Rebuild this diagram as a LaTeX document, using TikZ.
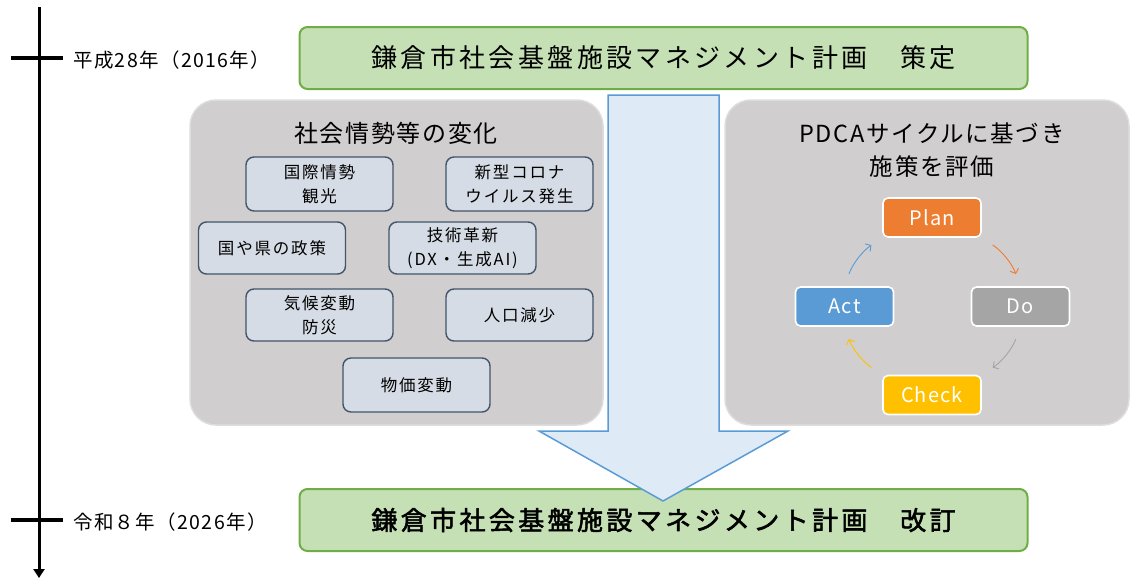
\documentclass[tikz,border=0pt]{standalone}
\usepackage{fontspec}
\setmainfont{Noto Sans CJK JP}
\newfontfamily\yearfont[LetterSpace=7]{Noto Sans CJK JP}
\newfontfamily\titlefont[LetterSpace=13]{Noto Sans CJK JP}
\newfontfamily\titlefontb[LetterSpace=13,FakeBold=2]{Noto Sans CJK JP}
\newfontfamily\headfont[LetterSpace=7]{Noto Sans CJK JP}
\newfontfamily\itemfont[LetterSpace=11]{Noto Sans CJK JP}
\newfontfamily\pdcafont[LetterSpace=6]{Noto Sans CJK JP}
\usetikzlibrary{arrows.meta,calc}
\definecolor{gfill}{HTML}{C5E0B4}
\definecolor{gdraw}{HTML}{70AD47}
\definecolor{pfill}{HTML}{D0CECE}
\definecolor{pdraw}{HTML}{DEDDDD}
\definecolor{ifill}{HTML}{D6DCE5}
\definecolor{idraw}{HTML}{44546A}
\definecolor{afill}{HTML}{DEEBF7}
\definecolor{adraw}{HTML}{5B9BD5}
\definecolor{cplan}{HTML}{ED7D31}
\definecolor{cdo}{HTML}{A5A5A5}
\definecolor{ccheck}{HTML}{FFC000}
\definecolor{cact}{HTML}{5B9BD5}
\tikzset{
  greenbox/.style={draw=gdraw, fill=gfill, line width=2pt, rounded corners=8pt,
    minimum width=728pt, minimum height=62pt, inner sep=0pt},
  panel/.style={draw=pdraw, fill=pfill, line width=1.5pt, rounded corners=26pt,
    minimum height=325pt, inner sep=0pt},
  itembox/.style={draw=idraw, fill=ifill, line width=1.4pt, rounded corners=8pt,
    minimum width=147pt, inner sep=0pt, align=center,
    font=\itemfont\fontsize{16.5}{24}\selectfont},
  pdcabox/.style={draw=white, line width=1.6pt, rounded corners=5pt,
    minimum width=98pt, minimum height=39pt, inner sep=0pt, text=white,
    font=\pdcafont\fontsize{20}{24}\selectfont},
  cyc/.style={line width=0.9pt, -{Straight Barb[length=4pt,width=9pt]},
    shorten <=13pt, shorten >=13pt, bend left=18},
  bigarrow/.style={draw=adraw, fill=afill, line width=1.5pt, line join=miter},
  yearlabel/.style={anchor=west, inner sep=0pt, font=\yearfont\fontsize{19.5}{22}\selectfont}
}
\begin{document}
\begin{tikzpicture}[x=1pt,y=-1pt]
\useasboundingbox (0,0) rectangle (1131,579);
% timeline
\coordinate (tltop) at (39,7);
\coordinate (tlbot) at (39,578);
\coordinate (tk1a) at (11,58);
\coordinate (tk1b) at (63,58);
\coordinate (tk2a) at (11,520);
\coordinate (tk2b) at (63,520);
\draw[line width=3pt, -{Triangle[width=11pt,length=9pt]}] (tltop) -- (tlbot);
\draw[line width=4pt] (tk1a) -- (tk1b);
\draw[line width=4pt] (tk2a) -- (tk2b);
\node[yearlabel] (y1) at (73,60) {平成28年（2016年）};
\node[yearlabel] (y2) at (73,522) {令和８年（2026年）};
% green boxes
\node[greenbox, font=\titlefont\fontsize{26}{30}\selectfont] (plantop) at (663.5,58) {鎌倉市社会基盤施設マネジメント計画　策定};
\node[greenbox, font=\titlefontb\fontsize{26}{30}\selectfont] (planbot) at (663.5,520) {鎌倉市社会基盤施設マネジメント計画　改訂};
% panels
\node[panel, minimum width=413pt] (lpanel) at (396.5,262.5) {};
\node[panel, minimum width=404pt] (rpanel) at (927,262.5) {};
\node[font=\headfont\fontsize{24}{28}\selectfont, inner sep=0pt] (lhead) at (396,133) {社会情勢等の変化};
\node[font=\headfont\fontsize{23.5}{33}\selectfont, inner sep=0pt, align=center] (rhead) at (932,150) {PDCAサイクルに基づき\\施策を評価};
% items
\node[itembox, minimum height=54pt] (i1) at (319.5,184) {国際情勢\\観光};
\node[itembox, minimum height=54pt] (i2) at (519.5,184) {新型コロナ\\ウイルス発生};
\node[itembox, minimum height=52pt] (i3) at (272,248) {国や県の政策};
\node[itembox, minimum height=52pt] (i4) at (462.5,248) {技術革新\\(DX・生成AI)};
\node[itembox, minimum height=52pt] (i5) at (319.5,315) {気候変動\\防災};
\node[itembox, minimum height=52pt] (i6) at (519.5,315) {人口減少};
\node[itembox, minimum height=54pt] (i7) at (416.5,385) {物価変動};
% PDCA
\node[pdcabox, fill=cplan] (plan) at (932,217.5) {Plan};
\node[pdcabox, fill=cdo] (do) at (1020.5,306.5) {Do};
\node[pdcabox, fill=cact] (act) at (844.5,306.5) {Act};
\node[pdcabox, fill=ccheck] (check) at (932,395) {Check};
\draw[cyc, draw=cplan] (plan.south east) to (do.north);
\draw[cyc, draw=cdo] (do.south) to (check.north east);
\draw[cyc, draw=ccheck] (check.north west) to (act.south);
\draw[cyc, draw=cact] (act.north) to (plan.south west);
% big arrow
\draw[bigarrow] (608,95) -- (719,95) -- (719,431) -- (788,431) -- (663,501) -- (539,431) -- (608,431) -- cycle;
\end{tikzpicture}
\end{document}
